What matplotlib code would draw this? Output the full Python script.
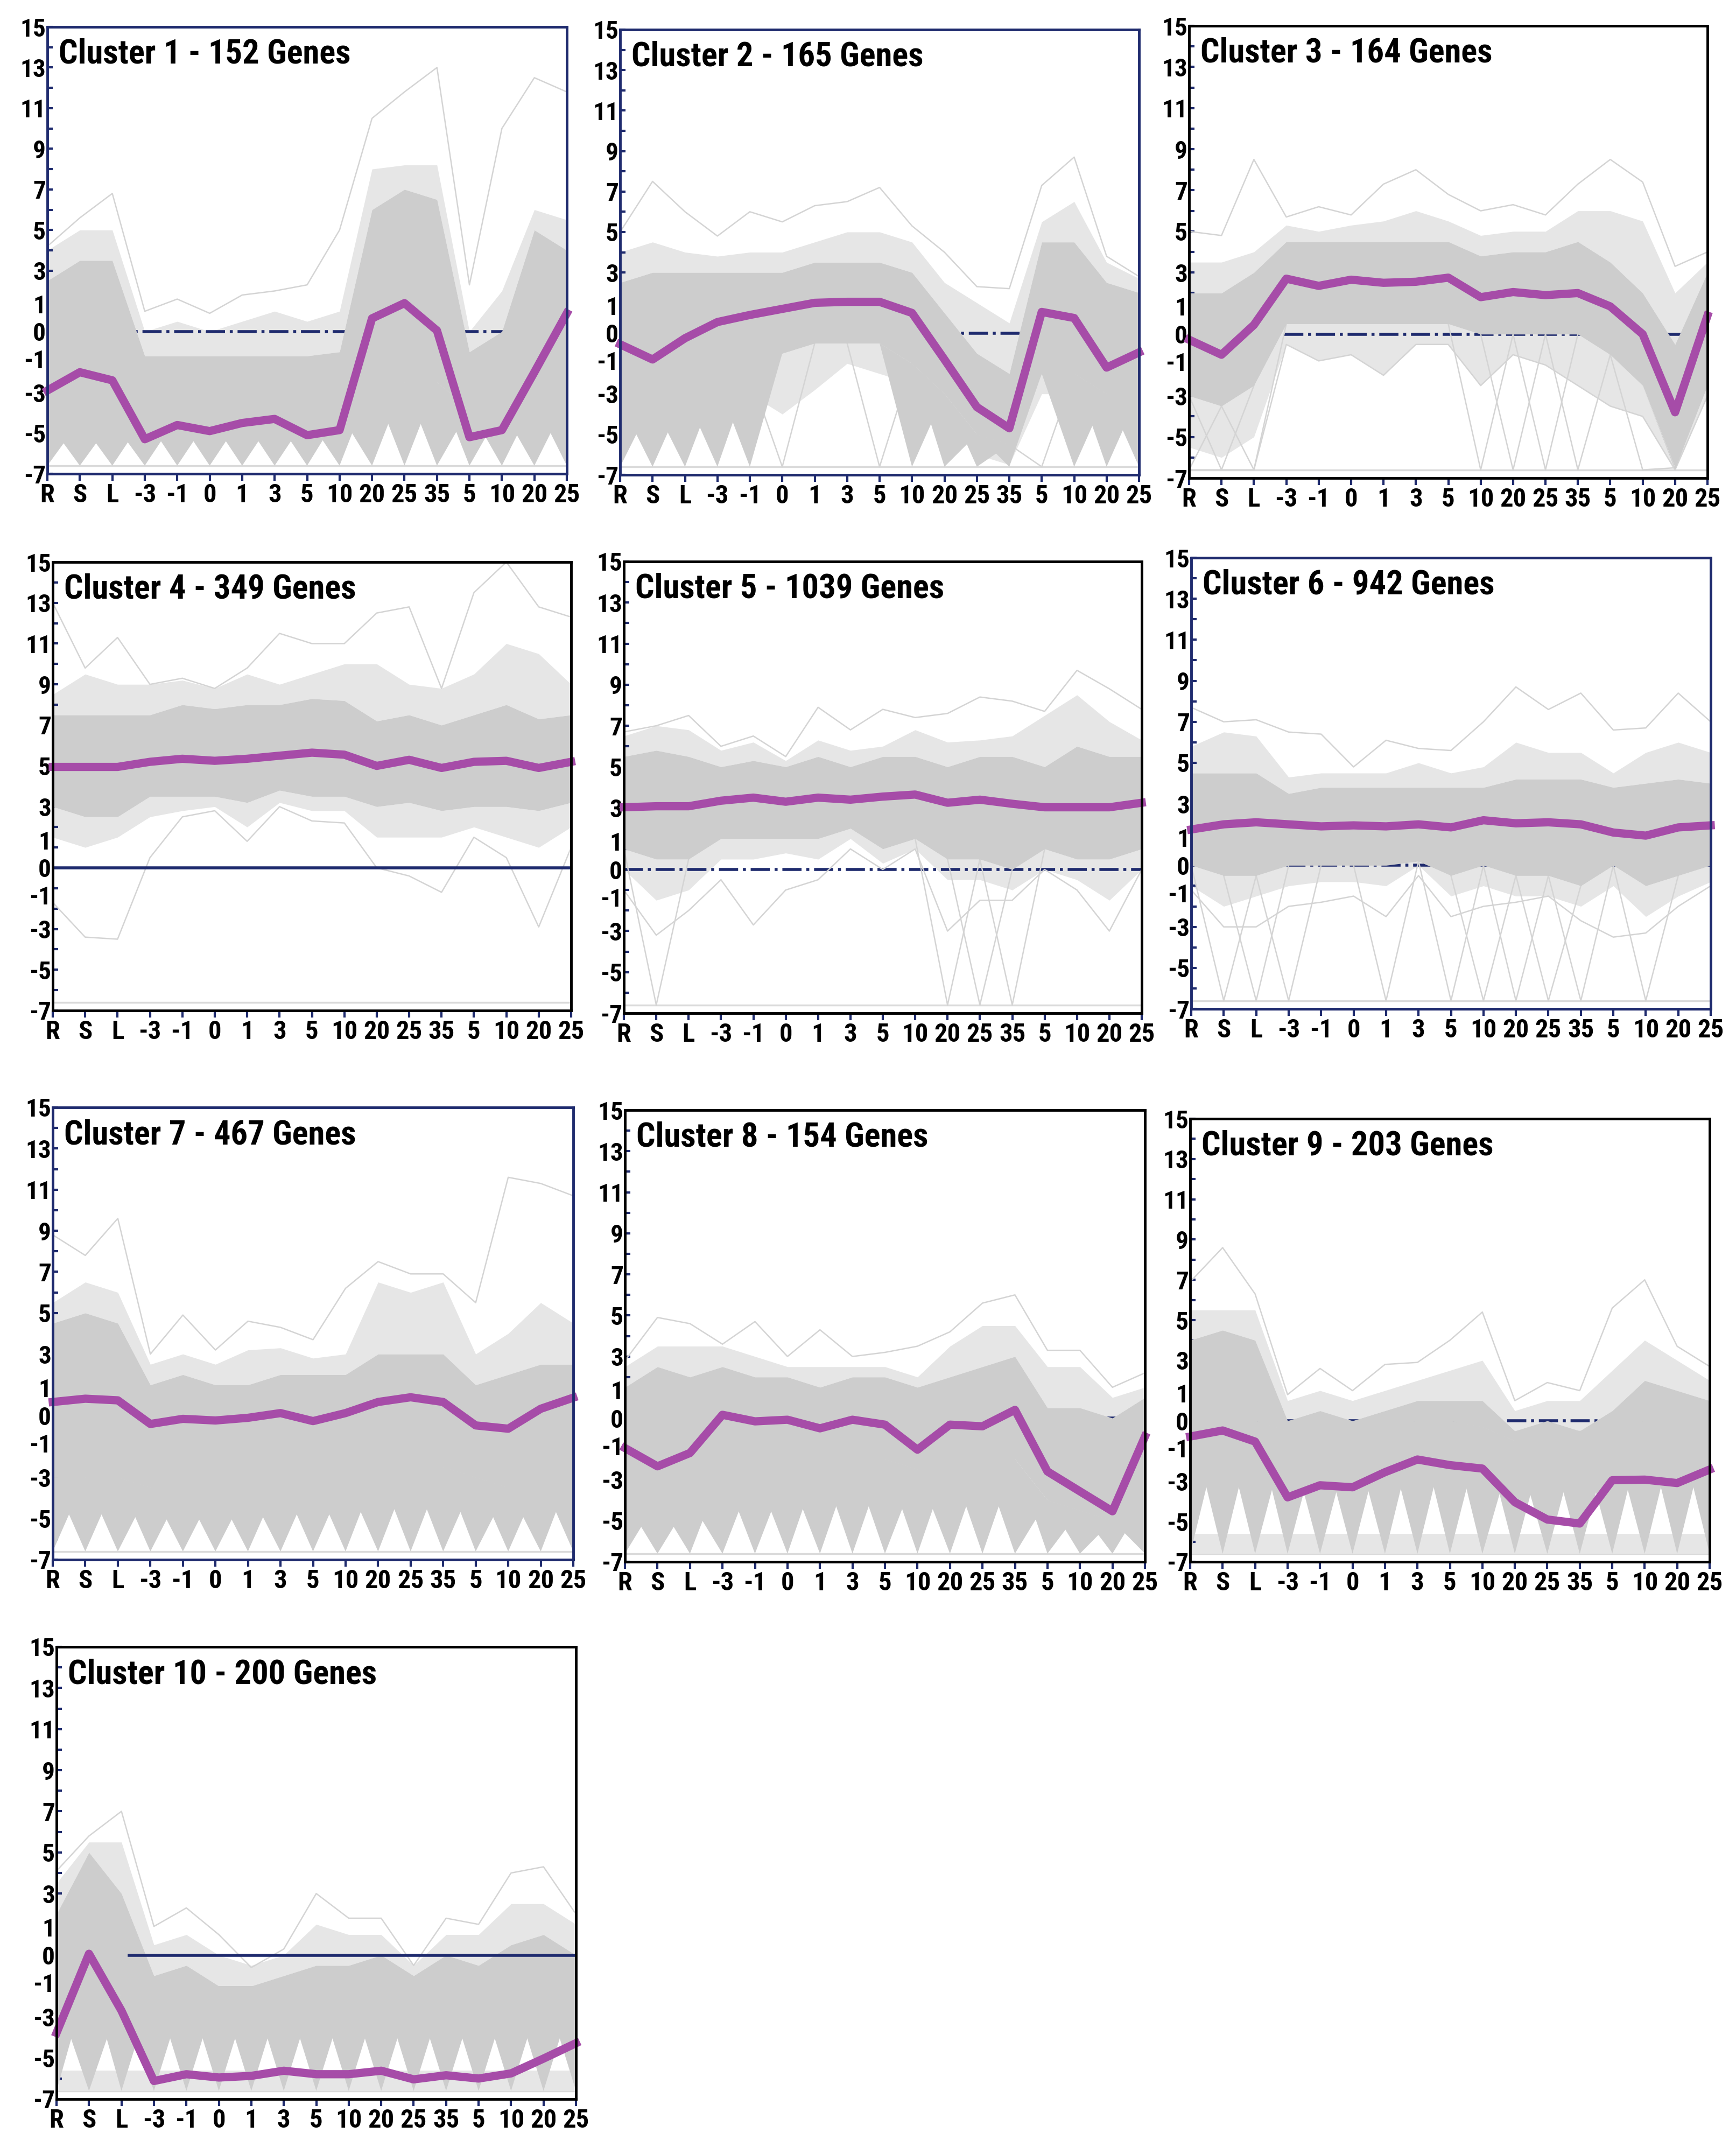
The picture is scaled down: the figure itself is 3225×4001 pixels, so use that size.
import matplotlib
matplotlib.use('Agg')
import matplotlib.pyplot as plt
from matplotlib import font_manager
from matplotlib.transforms import ScaledTranslation
import numpy as np

# ---- data ----
x_labels = ['R', 'S', 'L', '-3', '-1', '0', '1', '3', '5', '10', '20', '25', '35', '5', '10', '20', '25']
y_ticks = [-7, -5, -3, -1, 0, 1, 3, 5, 7, 9, 11, 13, 15]
titles = ['Cluster 1 - 152 Genes', 'Cluster 2 - 165 Genes', 'Cluster 3 - 164 Genes',
          'Cluster 4 - 349 Genes', 'Cluster 5 - 1039 Genes', 'Cluster 6 - 942 Genes',
          'Cluster 7 - 467 Genes', 'Cluster 8 - 154 Genes', 'Cluster 9 - 203 Genes',
          'Cluster 10 - 200 Genes']
floor = -6.6   # lowest value the gene profiles are clipped to

# cluster means (magenta)
mean1 = [-2.9, -2.0, -2.4, -5.3, -4.6, -4.9, -4.5, -4.3, -5.1, -4.85, 0.65, 1.4, 0.05, -5.2, -4.85, -2.0, 0.9]
mean2 = [-0.55, -1.3, -0.25, 0.55, 0.9, 1.2, 1.5, 1.55, 1.55, 1.0, -1.3, -3.65, -4.7, 1.05, 0.75, -1.7, -0.95]
mean3 = [-0.27, -1.0, 0.45, 2.7, 2.35, 2.65, 2.5, 2.55, 2.75, 1.8, 2.05, 1.9, 2.0, 1.35, 0.0, -3.8, 0.9]
mean4 = [4.95, 4.95, 4.95, 5.2, 5.35, 5.25, 5.35, 5.5, 5.65, 5.55, 5.0, 5.3, 4.9, 5.2, 5.25, 4.9, 5.2]
mean5 = [3.03, 3.08, 3.08, 3.35, 3.5, 3.3, 3.5, 3.4, 3.55, 3.65, 3.25, 3.4, 3.2, 3.03, 3.03, 3.03, 3.25]
mean6 = [1.75, 2.0, 2.1, 2.0, 1.9, 1.95, 1.9, 2.0, 1.85, 2.2, 2.05, 2.1, 2.0, 1.6, 1.45, 1.85, 1.95]
mean7 = [0.67, 0.83, 0.75, -0.4, -0.15, -0.23, -0.1, 0.13, -0.26, 0.13, 0.67, 0.9, 0.67, -0.47, -0.63, 0.34, 0.88]
mean8 = [-1.46, -2.35, -1.7, 0.16, -0.16, -0.08, -0.5, -0.08, -0.32, -1.54, -0.32, -0.4, 0.4, -2.6, -3.57, -4.54, -0.9]
mean9 = [-0.78, -0.48, -1.03, -3.8, -3.2, -3.3, -2.55, -1.92, -2.2, -2.37, -4.04, -4.9, -5.1, -2.95, -2.92, -3.09, -2.42]
mean10 = [-3.78, 0.07, -2.7, -6.12, -5.79, -5.95, -5.87, -5.62, -5.79, -5.79, -5.62, -6.04, -5.84, -6.0, -5.75, -5.03, -4.28]

# upper / lower edge of the dense bundle of gene profiles
core_hi1 = [2.5, 3.5, 3.5, -1.2, -1.2, -1.2, -1.2, -1.2, -1.2, -1.0, 6.0, 7.0, 6.5, -1.0, 0.0, 5.0, 4.0]
core_lo1 = [-4.4, -4.4, -4.4, -4.2, -4.2, -4.2, -4.2, -4.2, -4.2, -4.0, -2.5, -2.5, -2.5, -3.8, -3.8, -3.4, -3.4]
core_hi2 = [2.5, 3.0, 3.0, 3.0, 3.0, 3.0, 3.5, 3.5, 3.5, 3.0, 1.0, -1.0, -2.0, 4.5, 4.5, 2.5, 2.0]
core_lo2 = [-3.4, -3.4, -3.0, -2.4, -2.0, -1.0, -0.5, -0.5, -0.5, -1.5, -3.0, -5.0, -5.5, -2.0, -2.0, -3.0, -3.0]
core_hi3 = [2.0, 2.0, 3.0, 4.5, 4.5, 4.5, 4.5, 4.5, 4.5, 3.8, 4.0, 4.0, 4.5, 3.5, 2.0, -0.5, 3.0]
core_lo3 = [-3.0, -3.5, -2.5, 0.5, 0.5, 0.5, 0.5, 0.5, 0.5, 0.0, 0.0, 0.0, 0.0, -1.0, -2.5, -6.5, -2.5]
core_hi4 = [7.5, 7.5, 7.5, 7.5, 8.0, 7.8, 8.0, 8.0, 8.3, 8.2, 7.2, 7.5, 7.0, 7.5, 8.0, 7.3, 7.5]
core_lo4 = [3.0, 2.5, 2.5, 3.5, 3.5, 3.5, 3.2, 3.8, 3.5, 3.5, 3.0, 3.2, 2.8, 3.0, 3.0, 2.8, 3.2]
core_hi5 = [5.5, 5.8, 5.5, 5.0, 5.3, 5.0, 5.5, 5.0, 5.5, 5.5, 5.0, 5.5, 5.5, 5.0, 6.0, 5.5, 5.5]
core_lo5 = [1.0, 0.5, 0.5, 1.5, 1.5, 1.5, 1.5, 2.0, 1.0, 1.5, 0.5, 0.5, 0.0, 1.0, 0.5, 0.5, 1.0]
core_hi6 = [4.5, 4.5, 4.5, 3.5, 3.8, 3.8, 3.8, 3.8, 3.8, 3.8, 4.2, 4.2, 4.2, 3.8, 4.0, 4.2, 4.0]
core_lo6 = [0.0, -0.5, -0.5, 0.0, 0.0, 0.0, 0.0, 0.2, -0.5, 0.0, -0.5, -0.5, -1.0, 0.0, -1.0, -0.5, 0.0]
core_hi7 = [4.5, 5.0, 4.5, 1.5, 2.0, 1.5, 1.5, 2.0, 2.0, 2.0, 3.0, 3.0, 3.0, 1.5, 2.0, 2.5, 2.5]
core_lo7 = [-3.0, -3.0, -3.0, -3.5, -3.5, -3.5, -3.5, -3.0, -3.0, -3.0, -2.5, -2.5, -2.5, -3.0, -3.5, -3.0, -2.5]
core_hi8 = [1.5, 2.5, 2.0, 2.5, 2.0, 2.0, 1.5, 2.0, 2.0, 1.5, 2.0, 2.5, 3.0, 0.5, 0.5, 0.0, 1.0]
core_lo8 = [-4.0, -4.0, -4.0, -2.5, -2.5, -2.5, -2.0, -2.0, -2.0, -2.5, -2.0, -2.0, -2.0, -4.0, -4.5, -5.0, -4.0]
core_hi9 = [4.0, 4.5, 4.0, 0.0, 0.5, 0.0, 0.5, 1.0, 1.0, 1.0, -0.5, 0.0, -0.5, 0.5, 2.0, 1.5, 1.0]
core_lo9 = [0.0, 0.0, 0.0, -0.5, -0.5, -0.5, -0.3, 0.0, 0.0, -0.3, -1.0, -0.5, -0.5, -0.5, 0.0, 0.0, 0.0]
core_hi10 = [2.0, 5.0, 3.0, -1.0, -0.5, -1.5, -1.5, -1.0, -0.5, -0.5, 0.0, -1.0, 0.0, -0.5, 0.5, 1.0, 0.0]
core_lo10 = [-2.0, -1.0, -2.0, -1.5, -1.5, -1.5, -1.5, -1.5, -1.5, -1.5, -1.5, -1.5, -1.5, -1.5, -1.5, -1.5, -1.5]

# sparser profiles above the dense bundle
spread_hi1 = [4.0, 5.0, 5.0, 0.0, 0.5, 0.0, 0.5, 1.0, 0.5, 1.0, 8.0, 8.2, 8.2, 0.0, 2.0, 6.0, 5.5]
spread_hi2 = [4.0, 4.5, 4.0, 3.8, 4.0, 4.0, 4.5, 5.0, 5.0, 4.5, 2.5, 1.5, 0.5, 5.5, 6.5, 3.5, 2.7]
spread_hi3 = [3.5, 3.5, 4.0, 5.3, 5.0, 5.3, 5.5, 6.0, 5.5, 4.8, 5.0, 5.0, 6.0, 6.0, 5.5, 2.0, 3.5]
spread_hi4 = [8.5, 9.5, 9.0, 9.0, 9.2, 8.8, 9.5, 9.0, 9.5, 10.0, 10.0, 9.0, 8.8, 9.5, 11.0, 10.5, 9.0]
spread_hi5 = [6.5, 7.0, 6.8, 5.8, 6.2, 5.3, 6.3, 5.8, 6.0, 6.8, 6.2, 6.3, 6.5, 7.5, 8.5, 7.2, 6.3]
spread_hi6 = [5.8, 6.5, 6.3, 4.3, 4.5, 4.5, 4.5, 5.0, 4.5, 4.8, 6.0, 5.5, 5.5, 4.5, 5.5, 6.0, 5.5]
spread_hi7 = [5.5, 6.5, 6.0, 2.5, 3.0, 2.5, 3.2, 3.3, 2.8, 3.0, 6.5, 6.0, 6.5, 3.0, 4.0, 5.5, 4.5]
spread_hi8 = [2.5, 3.5, 3.5, 3.5, 3.0, 2.5, 2.5, 2.5, 2.5, 2.0, 3.5, 4.5, 4.5, 2.5, 2.5, 1.0, 1.5]
spread_hi9 = [5.5, 5.5, 5.5, 1.0, 1.5, 1.0, 1.5, 2.0, 2.5, 3.0, 0.5, 1.0, 1.0, 2.5, 4.0, 3.0, 2.0]
spread_hi10 = [3.5, 5.5, 5.5, 0.5, 1.0, 0.0, -0.5, 0.0, 1.5, 1.0, 1.0, -0.5, 1.0, 1.0, 2.5, 2.5, 1.5]

# sparser profiles below the dense bundle (None where the profiles drop to the floor instead)
spread_lo2 = [-3.5, -4.0, -3.0, -3.0, -3.0, -4.0, -2.8, -1.5, -2.0, -2.5, -4.0, -6.0, -6.5, -3.0, -3.0, -4.5, -4.0]
spread_lo3 = [-5.5, -6.0, -5.0, -0.5, -1.3, -1.0, -2.0, -0.5, -0.5, -2.5, -1.0, -1.5, -2.5, -3.5, -4.0, -6.6, -3.0]
spread_lo4 = [1.5, 1.0, 1.5, 2.5, 2.8, 3.0, 2.0, 3.2, 2.8, 2.8, 1.5, 1.5, 1.5, 2.0, 1.5, 1.0, 2.0]
spread_lo5 = [0.0, -1.5, -1.0, 0.5, 0.5, 0.8, 0.5, 1.5, 0.3, 1.0, -0.5, -0.5, -1.0, 0.0, -0.5, -1.5, 0.0]
spread_lo6 = [-1.0, -2.0, -1.5, -1.0, -0.8, -0.8, -1.0, 0.0, -1.5, -1.0, -1.5, -1.5, -2.0, -1.0, -2.5, -1.5, -0.8]

# highest single profiles
top1 = [4.2, 5.6, 6.8, 1.0, 1.6, 0.9, 1.8, 2.0, 2.3, 5.0, 10.5, 11.8, 13.0, 2.3, 10.0, 12.5, 11.8]
top2 = [5.0, 7.5, 6.0, 4.8, 6.0, 5.5, 6.3, 6.5, 7.2, 5.3, 4.0, 2.3, 2.2, 7.3, 8.7, 3.8, 2.8]
top3 = [5.0, 4.8, 8.5, 5.7, 6.2, 5.8, 7.3, 8.0, 6.8, 6.0, 6.3, 5.8, 7.3, 8.5, 7.4, 3.3, 4.0]
top4 = [13.0, 9.8, 11.3, 9.0, 9.3, 8.8, 9.8, 11.5, 11.0, 11.0, 12.5, 12.8, 8.8, 13.5, 15.0, 12.8, 12.3]
top5 = [6.7, 7.0, 7.5, 6.0, 6.5, 5.5, 7.9, 6.8, 7.8, 7.4, 7.6, 8.4, 8.2, 7.7, 9.7, 8.8, 7.8]
top6 = [7.7, 7.0, 7.1, 6.5, 6.4, 4.8, 6.1, 5.7, 5.6, 7.0, 8.7, 7.6, 8.4, 6.6, 6.7, 8.4, 7.0]
top7 = [8.8, 7.8, 9.6, 3.0, 4.9, 3.2, 4.6, 4.3, 3.7, 6.2, 7.5, 6.9, 6.9, 5.5, 11.6, 11.3, 10.7]
top8 = [2.8, 4.9, 4.6, 3.6, 4.7, 3.0, 4.3, 3.0, 3.2, 3.5, 4.2, 5.6, 6.0, 3.3, 3.3, 1.5, 2.2]
top9 = [6.9, 8.6, 6.3, 1.3, 2.6, 1.5, 2.8, 2.9, 4.0, 5.4, 1.0, 1.9, 1.5, 5.6, 7.0, 3.7, 2.7]
top10 = [4.1, 5.8, 7.0, 1.4, 2.3, 1.0, -0.6, 0.3, 3.0, 1.8, 1.8, -0.5, 1.8, 1.5, 4.0, 4.3, 2.0]

# lowest single profiles (clusters whose profiles do not sink to the floor)
bottom3 = [-6.6, -6.6, -6.6, -0.5, -1.3, -1.0, -2.0, -0.5, -0.5, -2.5, -1.0, -1.5, -2.5, -3.5, -4.0, -6.6, -3.0]
bottom4 = [-1.7, -3.4, -3.5, 0.5, 2.5, 2.8, 1.3, 3.0, 2.3, 2.2, 0.0, -0.4, -1.2, 1.5, 0.5, -2.9, 1.0]
bottom5 = [-1.0, -3.2, -2.0, -0.5, -2.7, -1.0, -0.5, 1.0, 0.0, 1.0, -3.0, -1.5, -1.5, 0.0, -1.0, -3.0, 0.0]
bottom6 = [-1.2, -3.0, -3.0, -2.0, -1.8, -1.5, -2.5, -0.5, -2.5, -2.0, -1.8, -1.5, -2.7, -3.5, -3.3, -2.0, -1.0]

# how many profiles fall to the floor at each time point: 0 none, 1 a few, 2 many
drop1 = [2] * 17
drop2 = [2, 2, 2, 2, 2, 1, 0, 0, 1, 2, 2, 2, 2, 1, 2, 2, 2]
drop3 = [1, 1, 1, 0, 0, 0, 0, 0, 0, 1, 1, 1, 1, 0, 1, 2, 0]
drop4 = [0] * 17
drop5 = [0, 1, 0, 0, 0, 0, 0, 0, 0, 0, 1, 1, 1, 0, 0, 0, 0]
drop6 = [0, 1, 1, 1, 0, 0, 1, 0, 1, 1, 1, 1, 1, 0, 1, 0, 0]
drop7 = [2] * 17
drop8 = [2] * 17
drop9 = [2] * 17
drop10 = [2] * 17

# lighter gray mass hugging the floor (None = none)
floor_fill = [None, None, None, None, None, None, None, None, -5.6, -5.6]

means = [mean1, mean2, mean3, mean4, mean5, mean6, mean7, mean8, mean9, mean10]
core_his = [core_hi1, core_hi2, core_hi3, core_hi4, core_hi5, core_hi6, core_hi7, core_hi8, core_hi9, core_hi10]
core_los = [core_lo1, core_lo2, core_lo3, core_lo4, core_lo5, core_lo6, core_lo7, core_lo8, core_lo9, core_lo10]
spread_his = [spread_hi1, spread_hi2, spread_hi3, spread_hi4, spread_hi5, spread_hi6, spread_hi7, spread_hi8,
              spread_hi9, spread_hi10]
spread_los = [None, spread_lo2, spread_lo3, spread_lo4, spread_lo5, spread_lo6, None, None, None, None]
tops = [top1, top2, top3, top4, top5, top6, top7, top8, top9, top10]
bottoms = [None, None, bottom3, bottom4, bottom5, bottom6, None, None, None, None]
drops = [drop1, drop2, drop3, drop4, drop5, drop6, drop7, drop8, drop9, drop10]

# ---- style / layout ----
NAVY = '#1f2b6e'
MAGENTA = '#a64ca8'
CORE = '#cdcdcd'
SPREAD = '#e6e6e6'
THIN = '#d4d4d4'
frame_colors = [NAVY, NAVY, 'black', 'black', 'black', NAVY, NAVY, 'black', 'black', 'black']
zero_styles = ['-.', '-.', '-.', '-', '-.', '-.', '-.', '-.', '-.', '-']
zero_on_top = [False, False, False, True, False, False, False, False, False, True]
zero_start = [0, 0, 0, 0, 0, 0, 0, 0, 0, 0.14]   # fraction of axis width where the zero line starts
# axes boxes in pixels: left, top, right, bottom
boxes = [(88, 50, 1053, 880), (1152, 55, 2116, 882), (2209, 48, 3172, 888),
         (98, 1044, 1061, 1877), (1159, 1043, 2121, 1882), (2213, 1036, 3178, 1874),
         (98, 2057, 1065, 2897), (1161, 2062, 2127, 2901), (2211, 2078, 3176, 2901),
         (105, 3059, 1070, 3899)]

# pick a narrow sans face if one is installed
fl = font_manager.fontManager.ttflist
names = {f.name for f in fl}
fam, stretch, narrow = 'Liberation Sans', 'normal', False
for cand in ['Liberation Sans Narrow', 'Arial Narrow', 'Roboto Condensed', 'Open Sans Condensed',
             'Noto Sans Condensed', 'DejaVu Sans Condensed']:
    if cand in names:
        fam, narrow = cand, True
        break
if not narrow:
    for cand in ['Noto Sans', 'DejaVu Sans', 'Roboto', 'Open Sans']:
        if any(f.name == cand and 'condensed' in str(f.stretch) for f in fl):
            fam, stretch, narrow = cand, 'condensed', True
            break
plt.rcParams['font.family'] = [fam, 'DejaVu Sans']
plt.rcParams['font.stretch'] = stretch
title_fs, xt_fs, yt_fs = (45, 35, 34) if narrow else (38, 30, 30)

W, H = 3225, 4001
fig = plt.figure(figsize=(W / 100, H / 100), dpi=100)
x = np.arange(len(x_labels))

# the crowded "1" and "-1" labels sit a little apart from "0", as in the original
label_shift = {'1': 0.14, '-1': -0.13}

for k in range(10):
    l, t, r, b = boxes[k]
    ax = fig.add_axes([l / W, 1 - b / H, (r - l) / W, (b - t) / H])
    hi = np.array(core_his[k])
    lo = np.array(core_los[k])
    n = len(x)

    # floor line where profiles are clipped
    ax.axhline(floor, color='#dadada', lw=2.5, zorder=0.5)

    # sparse part of the bundle
    ax.fill_between(x, hi, spread_his[k], color=SPREAD, lw=0, zorder=1)
    if spread_los[k] is not None:
        ax.fill_between(x, spread_los[k], lo, color=SPREAD, lw=0, zorder=1)
    if floor_fill[k] is not None:
        ax.fill_between(x, floor, floor_fill[k], color=SPREAD, lw=0, zorder=1)

    # zero reference line
    ax.axhline(0, xmin=zero_start[k], color=NAVY, lw=4, ls=zero_styles[k],
               zorder=4 if zero_on_top[k] else 2)

    # dense part of the bundle
    ax.fill_between(x, lo, hi, color=CORE, lw=0, zorder=3)

    # profiles falling to the floor
    for j in range(n):
        d = drops[k][j]
        if d == 0:
            continue
        px, py = [], []
        if j > 0:
            px.append(x[j - 1]); py.append(lo[j - 1])
        px.append(x[j]); py.append(floor)
        if j < n - 1:
            px.append(x[j + 1]); py.append(lo[j + 1])
        if d == 2:
            ax.fill(px + [x[j]], py + [lo[j]], color=CORE, lw=0, zorder=3)
        else:
            ax.plot(px, py, color=THIN, lw=1.8, zorder=2.5)

    # extreme single profiles
    ax.plot(x, tops[k], color=THIN, lw=1.8, zorder=2.5)
    if bottoms[k] is not None:
        ax.plot(x, bottoms[k], color=THIN, lw=1.8, zorder=2.5)

    # cluster mean
    ax.plot(x, means[k], color=MAGENTA, lw=11, solid_joinstyle='round', zorder=5, clip_on=False)

    ax.set_xlim(0, 16)
    ax.set_ylim(-7, 15)
    ax.set_xticks(x)
    ax.set_xticklabels(x_labels, fontsize=xt_fs, fontweight='bold')
    ax.set_yticks(y_ticks)
    ax.set_yticklabels([str(v) for v in y_ticks], fontsize=yt_fs, fontweight='bold')
    ax.set_yticks(np.arange(-7, 16), minor=True)
    ax.tick_params(axis='x', direction='out', length=9, width=3, color=NAVY, pad=3)
    ax.tick_params(axis='y', which='both', direction='in', length=7, width=3, color=NAVY, pad=2)
    for lab in ax.get_yticklabels():
        dy = label_shift.get(lab.get_text())
        if dy:
            lab.set_transform(lab.get_transform() + ScaledTranslation(0, dy, fig.dpi_scale_trans))
    for s in ax.spines.values():
        s.set_color(frame_colors[k])
        s.set_linewidth(3.5)
        s.set_zorder(6)
    ax.text(0.022, 0.975, titles[k], transform=ax.transAxes, ha='left', va='top',
            fontsize=title_fs, fontweight='bold', zorder=7)

fig.savefig('out.png', dpi=100, facecolor='white')
